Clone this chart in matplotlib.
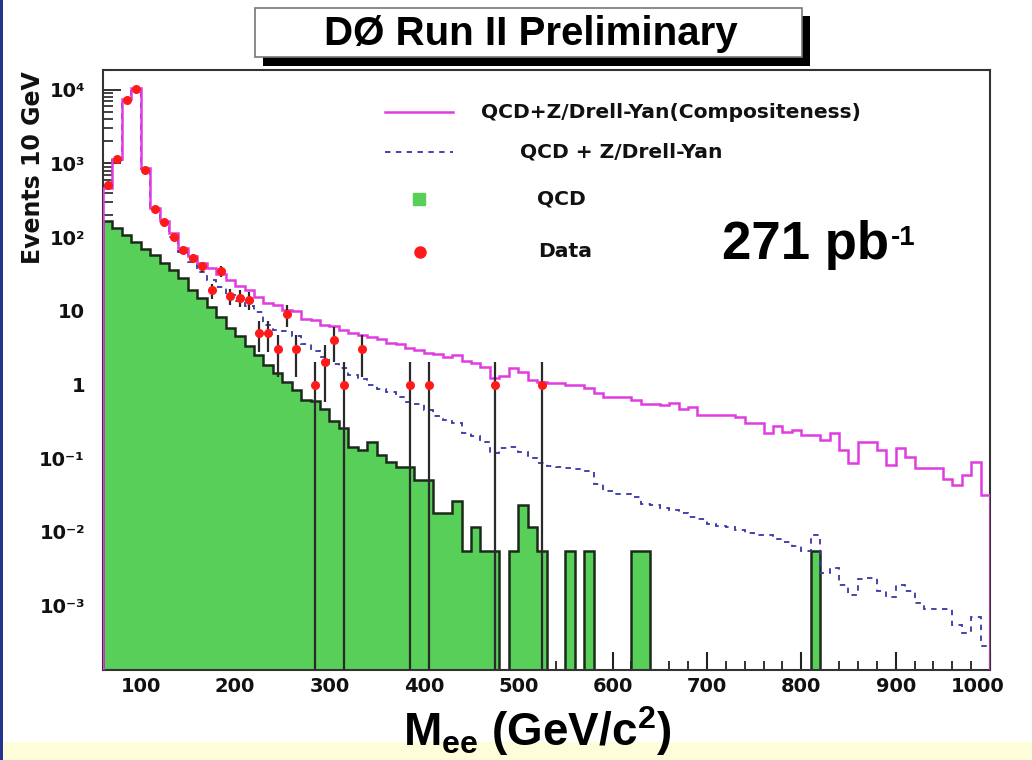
import numpy as np
import matplotlib
matplotlib.use("Agg")
import matplotlib.pyplot as plt
from matplotlib.patches import Rectangle
from matplotlib.lines import Line2D
from matplotlib.transforms import ScaledTranslation
from matplotlib.ticker import FixedLocator, FixedFormatter, LogLocator, NullFormatter, MultipleLocator

plt.rcParams['mathtext.fontset'] = 'custom'
plt.rcParams['mathtext.rm'] = 'Liberation Sans:bold'
plt.rcParams['mathtext.it'] = 'Liberation Sans:bold'
plt.rcParams['mathtext.bf'] = 'Liberation Sans:bold'
plt.rcParams['mathtext.default'] = 'rm'

# ---------------- data (10 GeV bins from 60 to 1000 GeV) ----------------
bin_edges = np.arange(60, 1001, 10)

qcd = np.array([
    167, 131, 107, 87, 70, 57, 44, 36, 27.6, 19.2,
    14.8, 11.4, 8.3, 5.8, 4.5, 3.3, 2.5, 1.84, 1.42, 1.09,
    0.84, 0.62, 0.6, 0.47, 0.32, 0.26, 0.143, 0.129, 0.168, 0.110,
    0.09, 0.075, 0.075, 0.051, 0.051, 0.018, 0.018, 0.026, 0.0055, 0.0118,
    0.0055, 0.0055, 0, 0.0055, 0.023, 0.0118, 0.0055, 0, 0, 0.0055,
    0, 0.0055, 0, 0, 0, 0, 0.0055, 0.0055, 0, 0,
    0, 0, 0, 0, 0, 0, 0, 0, 0, 0,
    0, 0, 0, 0, 0, 0.0055, 0, 0, 0, 0,
    0, 0, 0, 0, 0, 0, 0, 0, 0, 0,
    0, 0, 0, 0])

qcd_dy = np.array([
    460, 1120, 7300, 10400, 850, 240, 155, 100, 62, 46,
    34, 26, 21, 16.4, 13.5, 11.5, 9.7, 6.5, 5.5, 5.4,
    4.6, 3.6, 2.85, 2.4, 1.9, 1.7, 1.35, 1.2, 1.0, 0.88,
    0.8, 0.68, 0.58, 0.55, 0.45, 0.38, 0.33, 0.3, 0.22, 0.2,
    0.168, 0.117, 0.136, 0.14, 0.12, 0.1, 0.085, 0.078, 0.075, 0.074,
    0.072, 0.068, 0.045, 0.036, 0.033, 0.033, 0.030, 0.024, 0.023, 0.021,
    0.020, 0.018, 0.016, 0.015, 0.013, 0.012, 0.0115, 0.0105, 0.0098, 0.009,
    0.009, 0.008, 0.0072, 0.0065, 0.0056, 0.0092, 0.0028, 0.0032, 0.0019, 0.0014,
    0.0023, 0.0024, 0.0016, 0.0013, 0.0019, 0.0016, 0.0011, 0.0009, 0.0009, 0.0009,
    0.00055, 0.00042, 0.0007, 0.00028])

qcd_dy_comp = np.array([
    465, 1135, 7400, 10500, 870, 250, 165, 113, 72, 56,
    44, 38, 32, 26, 22, 19, 15.6, 12.6, 12.0, 10.3,
    9.8, 7.8, 7.4, 6.5, 6.3, 5.5, 5.0, 4.7, 4.4, 4.1,
    3.7, 3.5, 3.1, 2.9, 2.7, 2.6, 2.4, 2.5, 2.1, 1.95,
    1.75, 1.22, 1.3, 1.7, 1.5, 1.15, 1.08, 1.06, 1.04, 0.98,
    0.98, 0.89, 0.77, 0.68, 0.68, 0.68, 0.62, 0.54, 0.54, 0.53,
    0.556, 0.46, 0.50, 0.386, 0.386, 0.39, 0.39, 0.36, 0.30, 0.30,
    0.22, 0.27, 0.23, 0.24, 0.206, 0.206, 0.177, 0.218, 0.129, 0.087,
    0.168, 0.168, 0.129, 0.081, 0.136, 0.105, 0.074, 0.074, 0.074, 0.053,
    0.043, 0.059, 0.090, 0.032])

data_counts = np.array([
    510, 1140, 7300, 10300, 810, 240, 162, 101, 67, 52,
    40, 19, 35, 16, 15, 14, 5, 5, 3, 9,
    3, 0, 1, 2, 4, 1, 0, 3, 0, 0,
    0, 0, 1, 0, 1, 0, 0, 0, 0, 0,
    0, 1, 0, 0, 0, 0, 1, 0, 0, 0,
    0, 0, 0, 0, 0, 0, 0, 0, 0, 0,
    0, 0, 0, 0, 0, 0, 0, 0, 0, 0,
    0, 0, 0, 0, 0, 0, 0, 0, 0, 0,
    0, 0, 0, 0, 0, 0, 0, 0, 0, 0,
    0, 0, 0, 0])

x_ticks = [100, 200, 300, 400, 500, 600, 700, 800, 900, 1000]
x_tick_labels = ['100', '200', '300', '400', '500', '600', '700', '800', '900', '1000']
y_ticks = [1e-3, 1e-2, 1e-1, 1, 10, 1e2, 1e3, 1e4]
y_tick_labels = ['10\u207b\u00b3', '10\u207b\u00b2', '10\u207b\u00b9', '1', '10',
                 '10\u00b2', '10\u00b3', '10\u2074']

legend_labels = ['QCD+Z/Drell-Yan(Compositeness)', 'QCD + Z/Drell-Yan', 'QCD', 'Data']

# ---------------- styles ----------------
GREEN = '#58cf58'
GREEN_EDGE = '#1c2a1c'
MAGENTA = '#e03ce0'
BLUE = '#3636a6'
RED = '#ff1a1a'
FLOOR = 1e-7

W, H = 1032, 760
fig = plt.figure(figsize=(W / 100, H / 100), dpi=100)
fig.patch.set_facecolor('white')


def fx(px):
    return px / W


def fy(py):
    return 1 - py / H


ax = fig.add_axes([fx(103), fy(670), fx(990) - fx(103), fy(70) - fy(670)])
ax.set_yscale('log')
ax.set_xlim(60, 1000)
ax.set_ylim(1.34e-4, 1.85e4)

qcd_draw = np.where(qcd > 0, qcd, FLOOR)
ax.stairs(qcd_draw, bin_edges, baseline=FLOOR, fill=True, color=GREEN, zorder=1)
ax.stairs(qcd_draw, bin_edges, baseline=FLOOR, fill=False, color=GREEN_EDGE, lw=1.8, zorder=1.2)
ax.stairs(qcd_dy, bin_edges, baseline=FLOOR, fill=False, color=BLUE, lw=1.3,
          linestyle=(0, (3, 3)), zorder=3)
ax.stairs(qcd_dy_comp, bin_edges, baseline=FLOOR, fill=False, color=MAGENTA, lw=1.8, zorder=4)

centers = 0.5 * (bin_edges[:-1] + bin_edges[1:])
m = data_counts > 0
n = data_counts[m].astype(float)
err = np.sqrt(n)
lo = np.where(n - err > 0, n - err, FLOOR)
ax.vlines(centers[m], lo, n + err, color='#2a2a2a', lw=1.6, zorder=5)
ax.hlines(n, centers[m] - 4, centers[m] + 4, color=RED, lw=2, zorder=6)
ax.plot(centers[m], n, 'o', color=RED, ms=6.5, mec='none', zorder=7)

# axes styling
ax.xaxis.set_major_locator(FixedLocator(x_ticks))
ax.xaxis.set_major_formatter(FixedFormatter(x_tick_labels))
ax.xaxis.set_minor_locator(MultipleLocator(20))
ax.yaxis.set_major_locator(FixedLocator(y_ticks))
ax.yaxis.set_major_formatter(FixedFormatter(y_tick_labels))
ax.yaxis.set_minor_locator(LogLocator(base=10, subs=np.arange(2, 10), numticks=20))
ax.yaxis.set_minor_formatter(NullFormatter())
ax.tick_params(which='both', direction='in', top=False, right=False, color='#222222')
ax.tick_params(axis='x', which='major', length=13, width=1.5, pad=5, labelsize=14)
ax.tick_params(axis='x', which='minor', length=6.5, width=1.3)
ax.tick_params(axis='y', which='major', length=13, width=1.3, pad=13, labelsize=14)
ax.tick_params(axis='y', which='minor', length=7, width=1.2)
for lab in ax.get_xticklabels() + ax.get_yticklabels():
    lab.set_fontweight('bold')
    lab.set_family('DejaVu Sans')
    lab.set_color('#111111')
# the last x label sits slightly to the left of its tick, as in the original
last = ax.get_xticklabels()[-1]
last.set_transform(last.get_transform() + ScaledTranslation(-0.12, 0, fig.dpi_scale_trans))
ax.set_axisbelow(True)
for s in ax.spines.values():
    s.set_color('#333333')
    s.set_linewidth(1.5)

# y label
fig.text(fx(33), fy(168), 'Events 10 GeV', rotation=90, ha='center', va='center',
         fontsize=17, fontweight='bold', family='DejaVu Sans', color='#111111')

# x label
fig.text(fx(537), fy(746), r'M$_{\rm ee}$ (GeV/c$^{\rm 2}$)', ha='center', va='baseline',
         fontsize=33, fontweight='bold', family='Liberation Sans', color='black', zorder=5)

# title box with shadow
fig.add_artist(Rectangle((fx(263), fy(66)), fx(810) - fx(263), fy(16) - fy(66),
                         transform=fig.transFigure, facecolor='black', edgecolor='none', zorder=1))
fig.add_artist(Rectangle((fx(255), fy(57)), fx(802) - fx(255), fy(8) - fy(57),
                         transform=fig.transFigure, facecolor='white', edgecolor='#777777',
                         lw=1.2, zorder=2))
fig.text(fx(531), fy(34), 'DØ Run II Preliminary', ha='center', va='center', fontsize=29,
         fontweight='bold', family='Liberation Sans', color='black', zorder=3)

# legend (manual layout like the original)
fig.add_artist(Line2D([fx(385), fx(453)], [fy(112), fy(112)], color=MAGENTA, lw=1.8))
fig.text(fx(481), fy(112), legend_labels[0], ha='left', va='center', fontsize=14.6,
         fontweight='bold', family='DejaVu Sans', color='#111111')
fig.add_artist(Line2D([fx(385), fx(453)], [fy(152), fy(152)], color=BLUE, lw=1.3,
                      linestyle=(0, (3, 3))))
fig.text(fx(520), fy(152), legend_labels[1], ha='left', va='center', fontsize=14.6,
         fontweight='bold', family='DejaVu Sans', color='#111111')
fig.add_artist(Line2D([fx(419)], [fy(199)], marker='s', ms=9, color=GREEN, mec=GREEN, lw=0))
fig.text(fx(537), fy(199), legend_labels[2], ha='left', va='center', fontsize=14.6,
         fontweight='bold', family='DejaVu Sans', color='#111111')
fig.add_artist(Line2D([fx(420)], [fy(252)], marker='o', ms=8, color=RED, mec=RED, lw=0))
fig.text(fx(538), fy(252), legend_labels[3], ha='left', va='center', fontsize=14.6,
         fontweight='bold', family='DejaVu Sans', color='#111111')

# luminosity: "271 pb" with a small "-1" superscript right after it
lumi = fig.text(fx(722), fy(259), '271 pb', ha='left', va='baseline', fontsize=38,
                fontweight='bold', family='Liberation Sans', color='black')
renderer = fig.canvas.get_renderer()
bb = lumi.get_window_extent(renderer=renderer)
fig.text((bb.x1 + 2) / W, fy(245), '-1', ha='left', va='baseline', fontsize=20,
         fontweight='bold', family='Liberation Sans', color='black')

# slide decorations: pale yellow band at the bottom, blue border on the left
fig.add_artist(Rectangle((0, 0), 1, fy(742), transform=fig.transFigure,
                         facecolor='#fdfdda', edgecolor='none', zorder=0))
fig.add_artist(Rectangle((0, 0), fx(3), 1, transform=fig.transFigure,
                         facecolor='#26348f', edgecolor='none', zorder=0))

fig.savefig('out.png', dpi=100)
